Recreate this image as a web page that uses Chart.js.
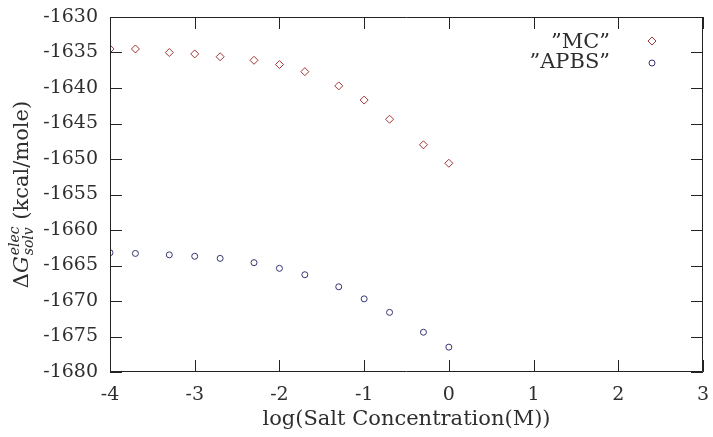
<!DOCTYPE html>
<html>
<head>
<meta charset="utf-8">
<script src="https://cdn.jsdelivr.net/npm/chart.js@4"></script>
<style>
  html, body { margin: 0; padding: 0; background: #fff; }
  canvas { display: block; }
</style>
</head>
<body>
<canvas id="canvas" width="713" height="437"></canvas>
<script>
// log10 of salt concentration (M)
const logSalt = [-4, -3.7, -3.3, -3, -2.7, -2.3, -2, -1.7, -1.3, -1, -0.7, -0.3, 0];
const mcValues = [-1634.5, -1634.5, -1635.0, -1635.2, -1635.6, -1636.1, -1636.7, -1637.7, -1639.7, -1641.7, -1644.4, -1648.0, -1650.6];
const apbsValues = [-1663.2, -1663.3, -1663.5, -1663.7, -1664.0, -1664.6, -1665.4, -1666.3, -1668.0, -1669.7, -1671.6, -1674.4, -1676.5];
const xTicks = [-4, -3, -2, -1, 0, 1, 2, 3];
const yTicks = [-1630, -1635, -1640, -1645, -1650, -1655, -1660, -1665, -1670, -1675, -1680];

const mcColor = '#a03535';
const apbsColor = '#35356e';
const textColor = '#2e2e2e';
const serif = 'DejaVu Serif';

const toPoints = (xs, ys) => xs.map((x, i) => ({ x: x, y: ys[i] }));

// frame with inward ticks on all four sides (gnuplot style)
const frameTicks = {
    id: 'frameTicks',
    afterDraw(chart) {
        const { ctx, chartArea: a, scales: { x, y } } = chart;
        const len = 12;
        ctx.save();
        ctx.strokeStyle = '#222';
        ctx.lineWidth = 1;
        ctx.beginPath();
        ctx.rect(Math.round(a.left) + 0.5, Math.round(a.top) + 0.5, Math.round(a.right - a.left) - 1, Math.round(a.bottom - a.top) - 1);
        x.ticks.forEach(t => {
            const px = Math.round(x.getPixelForValue(t.value)) + 0.5;
            ctx.moveTo(px, a.bottom); ctx.lineTo(px, a.bottom - len);
            ctx.moveTo(px, a.top); ctx.lineTo(px, a.top + len);
        });
        y.ticks.forEach(t => {
            const py = Math.round(y.getPixelForValue(t.value)) + 0.5;
            ctx.moveTo(a.left, py); ctx.lineTo(a.left + len, py);
            ctx.moveTo(a.right, py); ctx.lineTo(a.right - len, py);
        });
        ctx.stroke();
        ctx.restore();
    }
};

// y title with sub/superscripts
const yTitle = {
    id: 'yTitle',
    afterDraw(chart) {
        const { ctx, chartArea: a } = chart;
        const main = '21px "' + serif + '"';
        const ital = 'italic 21px "' + serif + '"';
        const small = 'italic 14px "' + serif + '"';
        ctx.save();
        ctx.fillStyle = textColor;
        ctx.textBaseline = 'alphabetic';
        ctx.textAlign = 'left';
        ctx.font = main; const wD = ctx.measureText('\u0394').width;
        const wRest = ctx.measureText(' (kcal/mole)').width;
        ctx.font = ital; const wG = ctx.measureText('G').width;
        ctx.font = small; const wS = Math.max(ctx.measureText('elec').width, ctx.measureText('solv').width);
        const total = wD + wG + 1 + wS + wRest;
        ctx.translate(28, (a.top + a.bottom) / 2);
        ctx.rotate(-Math.PI / 2);
        let cx = -total / 2;
        ctx.font = main; ctx.fillText('\u0394', cx, 0); cx += wD;
        ctx.font = ital; ctx.fillText('G', cx, 0); cx += wG + 1;
        ctx.font = small;
        ctx.fillText('elec', cx, -9);
        ctx.fillText('solv', cx, 5);
        cx += wS;
        ctx.font = main; ctx.fillText(' (kcal/mole)', cx, 0);
        ctx.restore();
    }
};

// legend: right-aligned label, marker to the right
const keyBox = {
    id: 'keyBox',
    afterDraw(chart) {
        const ctx = chart.ctx;
        const rows = [
            { label: '\u201DMC\u201D', ds: 0, y: 48, my: 41 },
            { label: '\u201DAPBS\u201D', ds: 1, y: 68, my: 63 }
        ];
        ctx.save();
        ctx.font = '21px "' + serif + '"';
        ctx.textAlign = 'right';
        ctx.textBaseline = 'alphabetic';
        rows.forEach(r => {
            ctx.fillStyle = textColor;
            ctx.fillText(r.label, 610, r.y);
            const d = chart.data.datasets[r.ds];
            ctx.fillStyle = 'rgba(0,0,0,0)';
            ctx.strokeStyle = d.borderColor;
            ctx.lineWidth = 1;
            Chart.helpers.drawPoint(ctx, { pointStyle: d.pointStyle, radius: d.pointRadius, borderWidth: 1 }, 652, r.my);
        });
        ctx.restore();
    }
};

const plainNumber = v => String(v);

new Chart(document.getElementById('canvas').getContext('2d'), {
    type: 'scatter',
    data: {
        datasets: [{
            label: '"MC"',
            data: toPoints(logSalt, mcValues),
            pointStyle: 'rectRot',
            pointRadius: 4,
            borderColor: mcColor,
            backgroundColor: 'rgba(0,0,0,0)',
            borderWidth: 1
        }, {
            label: '"APBS"',
            data: toPoints(logSalt, apbsValues),
            pointStyle: 'circle',
            pointRadius: 3,
            borderColor: apbsColor,
            backgroundColor: 'rgba(0,0,0,0)',
            borderWidth: 1
        }]
    },
    options: {
        responsive: false,
        animation: false,
        devicePixelRatio: 1,
        layout: { padding: { top: 17, right: 10, left: 0, bottom: 0 } },
        plugins: {
            legend: { display: false },
            tooltip: { enabled: false }
        },
        scales: {
            x: {
                type: 'linear',
                min: -4,
                max: 3,
                afterBuildTicks: s => { s.ticks = xTicks.map(v => ({ value: v })); },
                // fixed axis box; drop the label overflow padding so the plot area is 110..703
                afterFit: s => { s.height = 65; s.paddingLeft = 0; s.paddingRight = 0; },
                grid: { display: false, drawTicks: false },
                border: { display: false },
                ticks: { color: textColor, font: { family: serif, size: 19 }, padding: 12, callback: plainNumber },
                title: {
                    display: true,
                    text: 'log(Salt Concentration(M))',
                    color: textColor,
                    font: { family: serif, size: 21 },
                    padding: { top: 0, bottom: 5 }
                }
            },
            y: {
                type: 'linear',
                min: -1680,
                max: -1630,
                afterBuildTicks: s => { s.ticks = yTicks.map(v => ({ value: v })); },
                afterFit: s => { s.width = 110; s.paddingTop = 0; s.paddingBottom = 0; },
                grid: { display: false, drawTicks: false },
                border: { display: false },
                ticks: { color: textColor, font: { family: serif, size: 19 }, padding: 12, callback: plainNumber }
            }
        }
    },
    plugins: [frameTicks, yTitle, keyBox]
});
</script>
</body>
</html>
